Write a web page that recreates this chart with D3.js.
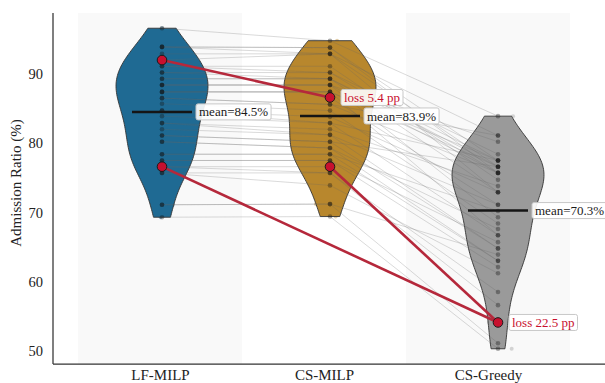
<!DOCTYPE html>
<html>
<head>
<meta charset="utf-8">
<script src="https://cdn.jsdelivr.net/npm/d3@7"></script>
<style>
  body { margin: 0; background: #fff; }
  svg { display: block; }
  text { font-family: "Liberation Serif", "Times New Roman", serif; }
</style>
</head>
<body>
<svg id="chart" width="605" height="383"></svg>
<script>
// Methods compared, one violin per method
const methods = ["LF-MILP", "CS-MILP", "CS-Greedy"];

// Admission ratio (%) per instance; the same index is the same instance in every array
const lfMilp = [
  96.6, 93.9, 93.9, 93.9, 92.9, 92.0, 92.0, 91.1, 91.1, 90.2, 90.2,
  89.3, 89.3, 88.4, 88.4, 88.4, 87.4, 87.4, 87.4, 86.5, 86.5, 85.7,
  84.7, 84.7, 83.9, 82.9, 82.9, 82.0, 81.1, 81.1, 80.2, 80.2, 78.4,
  78.4, 77.5, 77.5, 76.6, 76.6, 75.7, 75.7, 71.1, 71.1, 69.3
];
const csMilp = [
  94.8, 93.8, 93.8, 92.9, 92.9, 92.9, 86.6, 91.1, 90.2, 90.2, 89.3,
  89.3, 89.3, 88.4, 88.4, 88.4, 87.4, 87.4, 87.4, 85.6, 85.6, 84.7,
  83.8, 82.9, 82.9, 82.0, 81.2, 81.2, 80.2, 80.2, 79.3, 79.3, 78.4,
  78.4, 77.5, 77.5, 76.6, 75.7, 75.7, 73.9, 71.2, 71.2, 69.4
];
const csGreedy = [
  83.9, 77.5, 75.7, 72.9, 81.1, 76.6, 71.1, 74.7, 78.4, 75.7, 77.5,
  72.9, 76.6, 69.3, 80.2, 75.7, 77.5, 76.6, 66.7, 81.1, 75.7, 68.4,
  72.9, 77.5, 66.7, 73.8, 64.8, 71.1, 76.6, 64.8, 67.6, 63.0, 70.2,
  63.0, 65.7, 62.1, 54.1, 56.6, 58.5, 61.2, 63.9, 51.1, 50.3
];

// Highlighted instances: [instance index, from method, to method]
const highlightSegments = [[6, 0, 1], [36, 0, 2], [36, 1, 2]];
// Loss annotations: [instance index, reference method, compared method]
const lossNotes = [[6, 0, 1], [36, 1, 2]];

const yTicks = [50, 60, 70, 80, 90];
const violinColors = ["#1f6a93", "#b8872d", "#9a9a9a"];
const serif = "Liberation Serif, Times New Roman, serif";

const series = [lfMilp, csMilp, csGreedy];

const svg = d3.select("#chart");
const plotTop = 13, plotBottom = 364, plotLeft = 53, plotRight = 605;

const y = d3.scaleLinear().domain([48.1, 98.8]).range([plotBottom, plotTop]);
const xAxisScale = d3.scalePoint().domain(methods).range([160, 488]);
const xMark = d3.scalePoint().domain(methods).range([162, 498]);
const step = xAxisScale.step();
const halfWidth = 46;

// Alternating shaded columns
svg.append("g").selectAll("rect")
  .data(methods.filter((d, i) => i % 2 === 0))
  .join("rect")
  .attr("x", d => xAxisScale(d) - step / 2)
  .attr("width", step)
  .attr("y", plotTop)
  .attr("height", plotBottom - plotTop)
  .attr("fill", "#f9f9f9");

// Gaussian KDE with Scott's bandwidth, evaluated between the data extremes
function kde(values) {
  const n = values.length;
  const sd = d3.deviation(values);
  const bw = sd * Math.pow(n, -1 / 5);
  const [lo, hi] = d3.extent(values);
  const grid = d3.range(0, 101).map(k => lo + (hi - lo) * k / 100);
  return grid.map(v => [v, d3.sum(values, x => Math.exp(-0.5 * ((v - x) / bw) ** 2))]);
}

// Jittered raw points beneath each violin (deterministic low-discrepancy offsets)
const jitterPhase = [0.5, 0.72, 0.97];
const jitter = (i, k) => (((i * 0.61803398875 + jitterPhase[k]) % 1) - 0.5) * 32;
series.forEach((vals, k) => {
  svg.append("g").selectAll("circle")
    .data(vals)
    .join("circle")
    .attr("cx", (d, i) => xMark(methods[k]) + jitter(i, k))
    .attr("cy", d => y(d))
    .attr("r", 2)
    .attr("fill", violinColors[k])
    .attr("opacity", 0.4);
});

// Violins, each scaled to the same maximum width
series.forEach((vals, k) => {
  const dens = kde(vals);
  const maxD = d3.max(dens, d => d[1]);
  const cx = xMark(methods[k]);
  const area = d3.area()
    .y(d => y(d[0]))
    .x0(d => cx - d[1] / maxD * halfWidth)
    .x1(d => cx + d[1] / maxD * halfWidth)
    .curve(d3.curveBasis);
  svg.append("path")
    .datum(dens)
    .attr("d", area)
    .attr("fill", violinColors[k])
    .attr("stroke", "#333")
    .attr("stroke-width", 0.9);
});

// Per-instance connecting lines
const line = d3.line().x(d => d[0]).y(d => d[1]);
svg.append("g").selectAll("path")
  .data(lfMilp.map((d, i) => series.map((s, k) => [xMark(methods[k]), y(s[i])])))
  .join("path")
  .attr("d", line)
  .attr("fill", "none")
  .attr("stroke", "#666")
  .attr("stroke-opacity", 0.3)
  .attr("stroke-width", 0.8);

// Instance points on the violin centre lines
series.forEach((vals, k) => {
  svg.append("g").selectAll("circle")
    .data(vals)
    .join("circle")
    .attr("cx", xMark(methods[k]))
    .attr("cy", d => y(d))
    .attr("r", 2.3)
    .attr("fill", "#111")
    .attr("opacity", 0.35);
});

// Mean bars
const means = series.map(s => d3.mean(s));
svg.append("g").selectAll("line")
  .data(means)
  .join("line")
  .attr("x1", (d, k) => xMark(methods[k]) - 30)
  .attr("x2", (d, k) => xMark(methods[k]) + 30)
  .attr("y1", d => y(d))
  .attr("y2", d => y(d))
  .attr("stroke", "#151515")
  .attr("stroke-width", 2.5);

// Highlighted instances
svg.append("g").selectAll("line")
  .data(highlightSegments)
  .join("line")
  .attr("x1", d => xMark(methods[d[1]]))
  .attr("y1", d => y(series[d[1]][d[0]]))
  .attr("x2", d => xMark(methods[d[2]]))
  .attr("y2", d => y(series[d[2]][d[0]]))
  .attr("stroke", "#b5283b")
  .attr("stroke-width", 2.6);

const redPts = [];
highlightSegments.forEach(([i, a, b]) => {
  [a, b].forEach(k => {
    if (!redPts.some(p => p[0] === i && p[1] === k)) redPts.push([i, k]);
  });
});
svg.append("g").selectAll("circle")
  .data(redPts)
  .join("circle")
  .attr("cx", d => xMark(methods[d[1]]))
  .attr("cy", d => y(series[d[1]][d[0]]))
  .attr("r", 4.8)
  .attr("fill", "#c8102e")
  .attr("stroke", "#1a1a1a")
  .attr("stroke-width", 1);

// Boxed label helper
function boxedLabel(x, yy, str, color) {
  const g = svg.append("g");
  const rect = g.append("rect");
  const t = g.append("text")
    .attr("x", x)
    .attr("y", yy)
    .attr("dy", "0.35em")
    .attr("font-family", serif)
    .attr("font-size", 13)
    .attr("fill", color)
    .text(str);
  const w = t.node().getComputedTextLength();
  rect.attr("x", x - 3).attr("y", yy - 8)
    .attr("width", w + 6).attr("height", 16)
    .attr("rx", 2)
    .attr("fill", "#fff").attr("fill-opacity", 0.9)
    .attr("stroke", "#c8c8c8").attr("stroke-width", 1);
}

means.forEach((m, k) => {
  boxedLabel(xMark(methods[k]) + 37, y(m), `mean=${m.toFixed(1)}%`, "#1a1a1a");
});

lossNotes.forEach(([i, a, b]) => {
  const loss = series[a][i] - series[b][i];
  boxedLabel(xMark(methods[b]) + 14, y(series[b][i]), `loss ${loss.toFixed(1)} pp`, "#c8102e");
});

// Axes
const yAxis = svg.append("g")
  .attr("transform", `translate(${plotLeft},0)`)
  .call(d3.axisLeft(y).tickValues(yTicks).tickSize(0).tickPadding(10));
yAxis.select(".domain").remove();
yAxis.selectAll("text")
  .attr("font-family", serif)
  .attr("font-size", 14.5)
  .attr("fill", "#222");

const xAxis = svg.append("g")
  .attr("transform", `translate(0,${plotBottom})`)
  .call(d3.axisBottom(xAxisScale).tickSize(0).tickPadding(5));
xAxis.select(".domain").remove();
xAxis.selectAll("text")
  .attr("font-family", serif)
  .attr("font-size", 15)
  .attr("fill", "#222");

// Spines
svg.append("line")
  .attr("x1", plotLeft).attr("x2", plotLeft)
  .attr("y1", plotTop).attr("y2", plotBottom)
  .attr("stroke", "#333").attr("stroke-width", 1.25);
svg.append("line")
  .attr("x1", plotLeft).attr("x2", plotRight)
  .attr("y1", plotBottom).attr("y2", plotBottom)
  .attr("stroke", "#333").attr("stroke-width", 1.25);

// Y axis title
svg.append("text")
  .attr("transform", "translate(21,183) rotate(-90)")
  .attr("text-anchor", "middle")
  .attr("font-family", serif)
  .attr("font-size", 15)
  .attr("fill", "#222")
  .text("Admission Ratio (%)");
</script>
</body>
</html>
